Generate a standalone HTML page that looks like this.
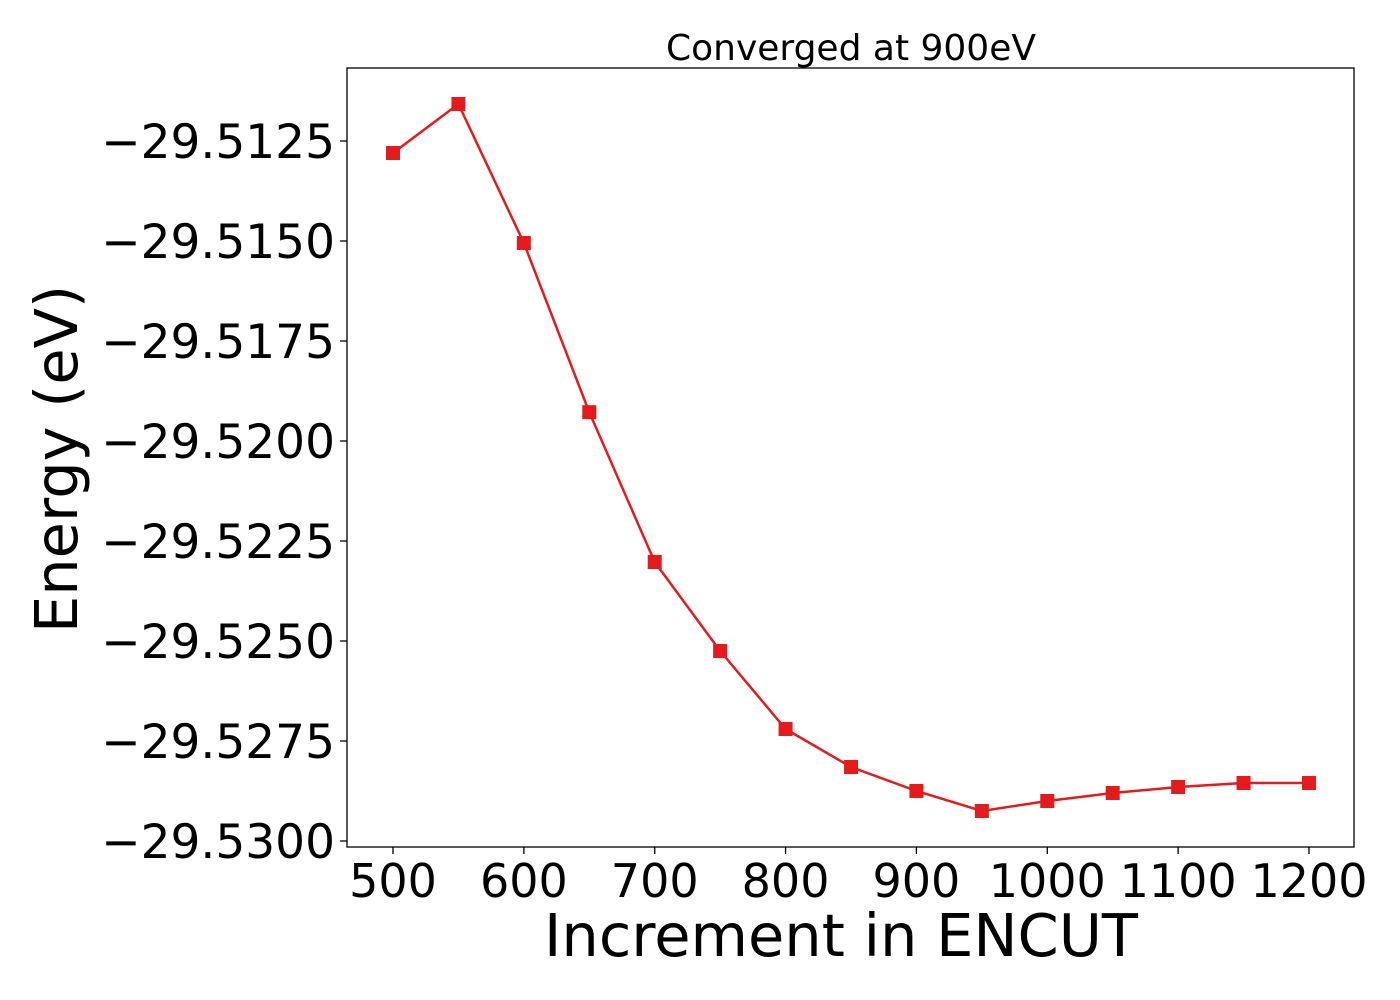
<!DOCTYPE html>
<html><head><meta charset="utf-8"><style>
html,body{margin:0;padding:0;background:#fff;}
svg{display:block;font-family:"DejaVu Sans","Liberation Sans",sans-serif;}
</style></head><body>
<svg id="chart" width="1400" height="1000">
<text x="851" y="60" font-size="36" text-anchor="middle" fill="#000">Converged at 900eV</text>
<text x="841" y="956" font-size="59" text-anchor="middle" fill="#000">Increment in ENCUT</text>
<text transform="translate(77,459) rotate(-90)" font-size="59" text-anchor="middle" fill="#000">Energy (eV)</text>
<g id="axes"></g>
<g id="series"></g>
<rect x="347" y="68" width="1007" height="779" fill="none" stroke="#000" stroke-width="1.3"/>
</svg>
<script>
const encut = [500,550,600,650,700,750,800,850,900,950,1000,1050,1100,1150,1200];
const energy = [-29.5128,-29.511575,-29.51505,-29.51928,-29.523025,-29.52525,-29.5272,-29.52815,-29.52875,-29.52925,-29.529,-29.5288,-29.52865,-29.52855,-29.52855];
const xTicks = [500,600,700,800,900,1000,1100,1200];
const yTicks = [-29.5125,-29.515,-29.5175,-29.52,-29.5225,-29.525,-29.5275,-29.53];
const yTickLabels = ["\u221229.5125","\u221229.5150","\u221229.5175","\u221229.5200","\u221229.5225","\u221229.5250","\u221229.5275","\u221229.5300"];

const L=347,R=1354,T=68,B=847;
const xMin=464.85,xMax=1234.4,yMin=-29.53015,yMax=-29.510675;
const sx=v=>L+(v-xMin)/(xMax-xMin)*(R-L);
const sy=v=>B-(v-yMin)/(yMax-yMin)*(B-T);
const NS="http://www.w3.org/2000/svg";
const axes=document.getElementById('axes'), series=document.getElementById('series');
function mk(tag,attrs,parent){const e=document.createElementNS(NS,tag);for(const k in attrs)e.setAttribute(k,attrs[k]);parent.appendChild(e);return e;}

xTicks.forEach(t=>{
  const x=sx(t);
  const ln=mk('line',{x1:x,x2:x,y1:B,y2:B+7,stroke:'#000','stroke-width':1.3},axes);
  
  
  const tx=mk('text',{x:x,y:B+50,'font-size':46,'text-anchor':'middle',fill:'#000'},axes);
  tx.textContent=t;
  
  
});
yTicks.forEach((t,i)=>{
  const y=sy(t);
  const ln=mk('line',{x1:L-7,x2:L,y1:y,y2:y,stroke:'#000','stroke-width':1.3},axes);
  
  
  const tx=mk('text',{x:L-12,y:y+17,'font-size':47,'text-anchor':'end',fill:'#000'},axes);
  tx.textContent=yTickLabels[i];
  
  
});
const pts=encut.map((v,i)=>sx(v)+','+sy(energy[i])).join(' ');
const pl=mk('polyline',{points:pts,fill:'none',stroke:'#e41a1c','stroke-width':2.5},series);


encut.forEach((v,i)=>{
  const m=mk('rect',{x:sx(v)-7,y:sy(energy[i])-7,width:14,height:14,fill:'#e41a1c'},series);
  
  
});
</script>
</body></html>
